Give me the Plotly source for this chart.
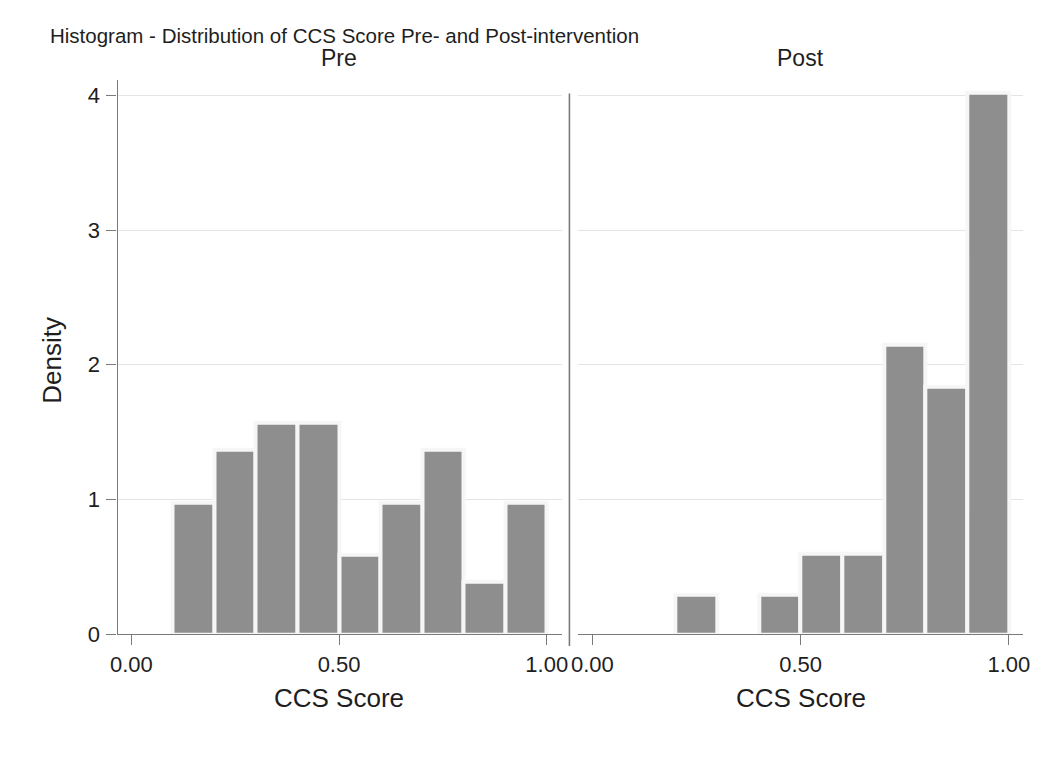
import plotly.graph_objects as go

# ---- data ----
pre_bin_centers = [0.15, 0.25, 0.35, 0.45, 0.55, 0.65, 0.75, 0.85, 0.95]
pre_density = [0.98, 1.37, 1.57, 1.57, 0.59, 0.98, 1.37, 0.39, 0.98]
post_bin_centers = [0.25, 0.45, 0.55, 0.65, 0.75, 0.85, 0.95]
post_density = [0.29, 0.29, 0.60, 0.60, 2.15, 1.84, 4.02]
bin_width = 0.1
x_tick_vals = [0.0, 0.5, 1.0]
x_tick_text = ["0.00", "0.50", "1.00"]
y_tick_vals = [0, 1, 2, 3, 4]
panel_titles = ["Pre", "Post"]
main_title = "Histogram - Distribution of CCS Score Pre- and Post-intervention"
x_title = "CCS Score"
y_title = "Density"

W, H = 1055, 775
FONT = "Liberation Sans, Arial, Helvetica, sans-serif"
TXT = "#1e1e1e"
AX = "#7a7a7a"
GRID = "#e4e4e4"
BAR = "#8e8e8e"
EDGE = "#f6f6f6"


def px(x):
    return x / W


def py(y):
    return 1 - y / H


fig = go.Figure()
fig.add_trace(go.Bar(x=pre_bin_centers, y=pre_density, width=bin_width,
                     marker=dict(color=BAR, line=dict(color=EDGE, width=4)),
                     xaxis="x", yaxis="y", showlegend=False, hoverinfo="x+y"))
fig.add_trace(go.Bar(x=post_bin_centers, y=post_density, width=bin_width,
                     marker=dict(color=BAR, line=dict(color=EDGE, width=4)),
                     xaxis="x2", yaxis="y2", showlegend=False, hoverinfo="x+y"))

ytop = (645 - 81) / 137.0
ydom = [py(645), py(81)]
common_x = dict(tickvals=x_tick_vals, ticktext=x_tick_text, ticks="outside", ticklen=10,
                tickwidth=1.3, tickcolor=AX, showgrid=False, zeroline=False,
                tickfont=dict(family=FONT, size=22, color=TXT), layer="above traces",
                fixedrange=True)

fig.update_layout(
    width=W, height=H,
    margin=dict(l=0, r=0, t=0, b=0),
    paper_bgcolor="white", plot_bgcolor="white",
    bargap=0,
    xaxis=dict(domain=[px(112), px(562)], range=[(112 - 126) / 421, (562 - 126) / 421],
               showline=True, linecolor=AX, linewidth=1.3, anchor="y", **common_x),
    xaxis2=dict(domain=[px(579), px(1030)], range=[(579 - 593.3) / 422, (1030 - 593.3) / 422],
                showline=True, linecolor=AX, linewidth=1.3, anchor="y2", **common_x),
    yaxis=dict(domain=ydom, range=[0, ytop], tickvals=y_tick_vals, ticks="outside",
               ticklen=10, tickwidth=1.3, tickcolor=AX, showline=True, linecolor=AX,
               linewidth=1.3, showgrid=True, gridcolor=GRID, gridwidth=1, zeroline=False,
               tickfont=dict(family=FONT, size=22, color=TXT), anchor="x",
               ticklabelstandoff=2, fixedrange=True),
    yaxis2=dict(domain=ydom, range=[0, ytop], tickvals=y_tick_vals, ticks="",
                showticklabels=False, showline=False, showgrid=True, gridcolor=GRID,
                gridwidth=1, zeroline=False, anchor="x2", fixedrange=True),
    shapes=[
        dict(type="line", xref="paper", yref="paper", x0=px(570), x1=px(570),
             y0=py(657), y1=py(95), line=dict(color=AX, width=1.6)),
    ],
)

ann = []
ann.append(dict(text=main_title, xref="paper", yref="paper", x=px(42), y=py(35.7),
                xanchor="left", yanchor="middle", showarrow=False,
                font=dict(family=FONT, size=20.5, color=TXT)))
for i, t in enumerate(panel_titles):
    ann.append(dict(text=t, xref="x" if i == 0 else "x2", yref="paper", x=0.5, y=py(58.6),
                    xanchor="center", yanchor="middle", showarrow=False,
                    font=dict(family=FONT, size=23, color=TXT)))
    ann.append(dict(text=x_title, xref="x" if i == 0 else "x2", yref="paper", x=0.5,
                    y=py(709.5), xanchor="center", yanchor="middle", showarrow=False,
                    font=dict(family=FONT, size=26, color=TXT)))
ann.append(dict(text=y_title, xref="paper", yref="paper", x=px(46), y=py(366.5),
                xanchor="center", yanchor="middle", textangle=-90, showarrow=False,
                font=dict(family=FONT, size=26, color=TXT)))
fig.update_layout(annotations=ann)

fig.write_html("out.html", config={"displayModeBar": False},
               post_script="document.body.style.margin='0';document.body.style.overflow='hidden';")
